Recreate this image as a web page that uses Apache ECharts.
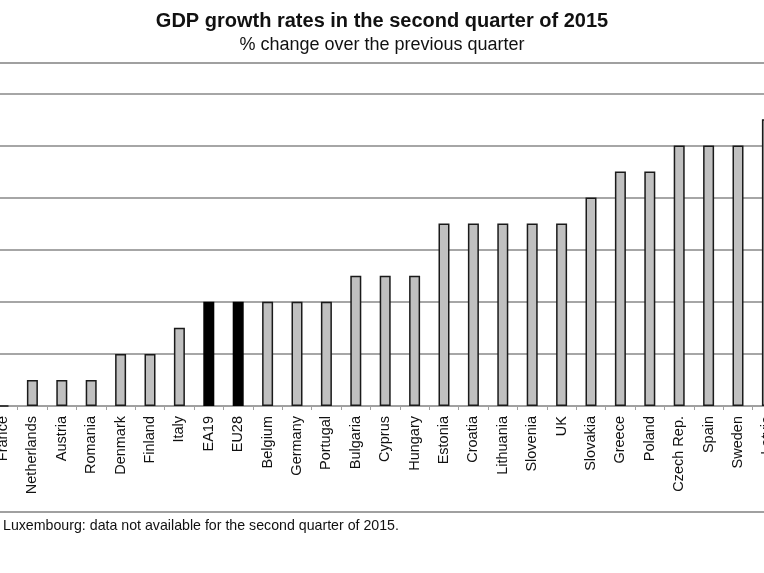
<!DOCTYPE html>
<html>
<head>
<meta charset="utf-8">
<script src="https://cdn.jsdelivr.net/npm/echarts@6/dist/echarts.min.js"></script>
<style>
html,body{margin:0;padding:0;background:#fff;}
#chart{width:764px;height:573px;}
</style>
</head>
<body>
<div id="chart"></div>
<script>
const categories = ["France","Netherlands","Austria","Romania","Denmark","Finland","Italy","EA19","EU28","Belgium","Germany","Portugal","Bulgaria","Cyprus","Hungary","Estonia","Croatia","Lithuania","Slovenia","UK","Slovakia","Greece","Poland","Czech Rep.","Spain","Sweden","Latvia"];
const growth = [0.0,0.1,0.1,0.1,0.2,0.2,0.3,0.4,0.4,0.4,0.4,0.4,0.5,0.5,0.5,0.7,0.7,0.7,0.7,0.7,0.8,0.9,0.9,1.0,1.0,1.0,1.1];
const aggregates = ["EA19","EU28"];
const yTicks = [0,0.2,0.4,0.6,0.8,1.0,1.2];

const FONT = '"Liberation Sans", Arial, sans-serif';
const chart = echarts.init(document.getElementById('chart'), null, {renderer:'canvas'});

const data = categories.map((c,i)=>({
  value: growth[i],
  itemStyle: aggregates.includes(c) ? {color:'#000000', borderColor:'#000000'} : {}
}));

chart.setOption({
  animation:false,
  backgroundColor:'#ffffff',
  title:[
    {text:'GDP growth rates in the second quarter of 2015', left:'center', top:6,
     textStyle:{fontFamily:FONT, fontSize:20, fontWeight:'bold', color:'#111'}},
    {text:'% change over the previous quarter', left:'center', top:31,
     textStyle:{fontFamily:FONT, fontSize:18, fontWeight:'normal', color:'#111'}},
    {text:'Luxembourg: data not available for the second quarter of 2015.', left:-2, top:514,
     textStyle:{fontFamily:FONT, fontSize:14.2, fontWeight:'normal', color:'#111'}}
  ],
  graphic:[
    {type:'rect', shape:{x:-10, y:63, width:790, height:449},
     style:{fill:'none', stroke:'#a0a0a0', lineWidth:2}, silent:true, z:-1}
  ],
  grid:{left:-11.7, width:793.8, top:93.3, height:312.7, containLabel:false, outerBoundsMode:'none'},
  xAxis:{
    type:'category', data:categories,
    axisLine:{show:true, lineStyle:{color:'#a0a0a0', width:2}},
    axisTick:{show:true, length:4, lineStyle:{color:'#a0a0a0', width:1}},
    axisLabel:{rotate:90, margin:10, interval:0, fontFamily:FONT, fontSize:14.5, color:'#111'},
    splitLine:{show:false}
  },
  yAxis:{
    type:'value', min:yTicks[0], max:yTicks[yTicks.length-1], interval:0.2,
    axisLine:{show:false}, axisTick:{show:false},
    axisLabel:{show:false},
    splitLine:{show:true, lineStyle:{color:'#a6a6a6', width:2}}
  },
  series:[{
    type:'bar', data:data, barWidth:11,
    itemStyle:{color:'#c0c0c0', borderColor:'#1a1a1a', borderWidth:1.5}
  }]
});
</script>
</body>
</html>
